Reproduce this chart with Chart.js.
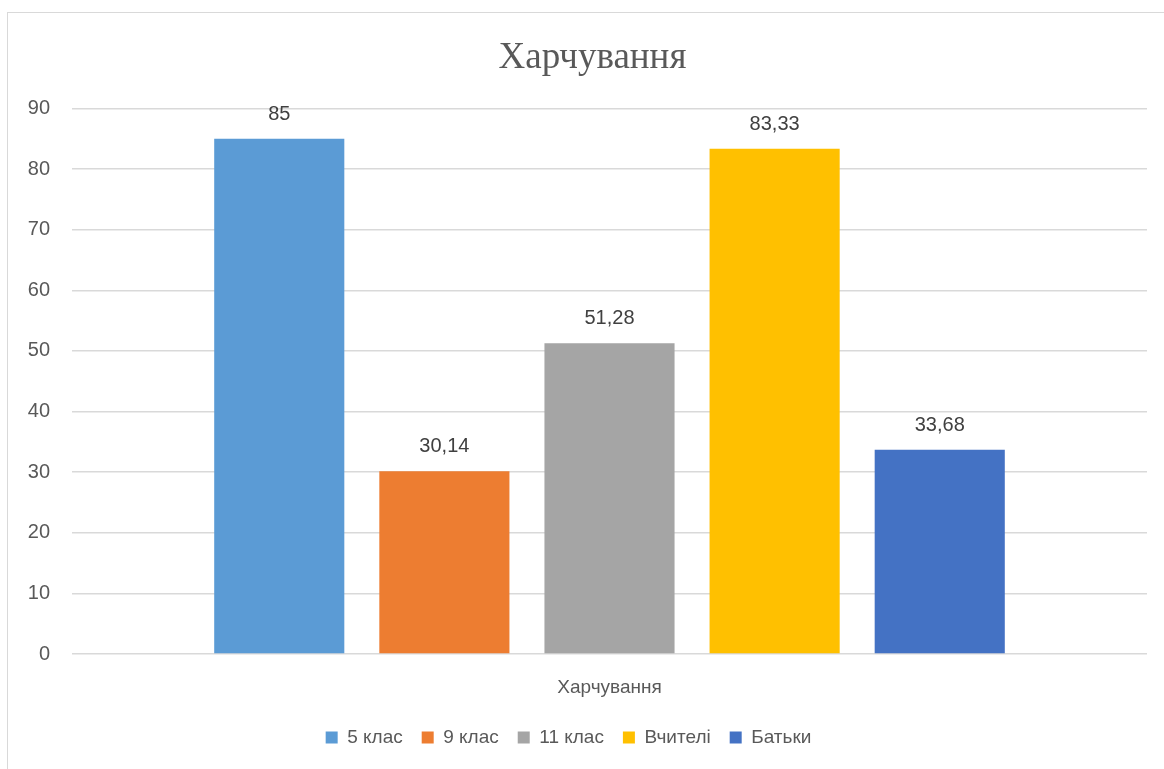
<!DOCTYPE html>
<html>
<head>
<meta charset="utf-8">
<script src="https://cdn.jsdelivr.net/npm/chart.js@4"></script>
<style>
  body { margin: 0; background: #fff; overflow: hidden; }
  .frame { position: absolute; left: 7px; top: 12px; width: 1170px; height: 770px; border: 1px solid #d9d9d9; }
  #chart { position: absolute; left: 0; top: 0; }
</style>
</head>
<body>
<div class="frame"></div>
<canvas id="chart" width="1164" height="769"></canvas>
<script>
const categories = ['Харчування'];
const seriesNames = ['5 клас', '9 клас', '11 клас', 'Вчителі', 'Батьки'];
const seriesValues = [85, 30.14, 51.28, 83.33, 33.68];
const seriesColors = ['#5b9bd5', '#ed7d31', '#a5a5a5', '#ffc000', '#4472c4'];
const yTicks = [0, 10, 20, 30, 40, 50, 60, 70, 80, 90];

const fmt = v => String(v).replace('.', ',');

// value labels above each bar
const barLabels = {
  id: 'barLabels',
  afterLayout(chart) {
    // centre the title on the outer frame, nudge legend left like the original
    chart.titleBlock.left += 18;
    chart.legend.left -= 30;
  },
  afterDatasetsDraw(chart) {
    const c = chart.ctx;
    c.save();
    c.font = '20px "Liberation Sans", Arial, sans-serif';
    c.fillStyle = '#404040';
    c.textAlign = 'center';
    c.textBaseline = 'middle';
    chart.data.datasets.forEach((ds, i) => {
      const bar = chart.getDatasetMeta(i).data[0];
      c.fillText(fmt(ds.data[0]), bar.x, bar.y - 24.5);
    });
    c.restore();
  }
};

new Chart(document.getElementById('chart').getContext('2d'), {
  type: 'bar',
  data: {
    labels: categories,
    datasets: seriesNames.map((name, i) => ({
      label: name,
      data: [seriesValues[i]],
      backgroundColor: seriesColors[i]
    }))
  },
  options: {
    responsive: false,
    animation: false,
    categoryPercentage: 0.768,
    barPercentage: 0.788,
    layout: { padding: { left: 20, right: 17, top: 12, bottom: 12 } },
    plugins: {
      title: {
        display: true,
        text: 'Харчування',
        color: '#595959',
        font: { family: '"Liberation Serif", "Times New Roman", serif', size: 37, weight: 'normal' },
        padding: { top: 24, bottom: 28 }
      },
      legend: {
        position: 'bottom',
        labels: {
          color: '#595959',
          font: { family: '"Liberation Sans", Arial, sans-serif', size: 19 },
          boxWidth: 12,
          boxHeight: 12,
          padding: 19
        }
      },
      tooltip: { enabled: false }
    },
    scales: {
      x: {
        afterFit: s => { s.height = 55; },
        grid: { display: false },
        border: { display: false },
        ticks: {
          color: '#595959',
          font: { family: '"Liberation Sans", Arial, sans-serif', size: 19 },
          padding: 14
        }
      },
      y: {
        min: 0,
        max: 90,
        afterBuildTicks: s => { s.ticks = yTicks.map(v => ({ value: v })); },
        afterFit: s => { s.width = 52; },
        grid: { color: '#d9d9d9', lineWidth: 1.5, drawTicks: false },
        border: { display: false },
        ticks: {
          color: '#595959',
          font: { family: '"Liberation Sans", Arial, sans-serif', size: 20 },
          padding: 22
        }
      }
    }
  },
  plugins: [barLabels]
});
</script>
</body>
</html>
